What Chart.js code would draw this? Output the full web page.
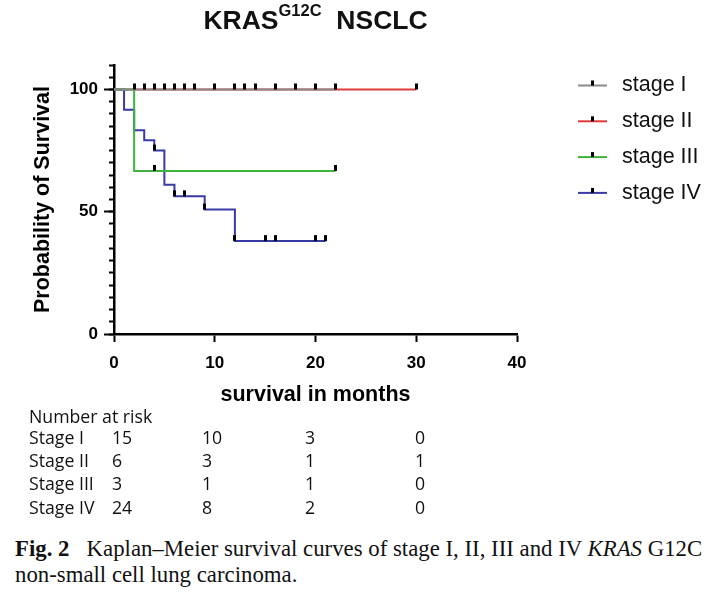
<!DOCTYPE html>
<html><head><meta charset="utf-8">
<script src="https://cdn.jsdelivr.net/npm/chart.js@4/dist/chart.umd.min.js"></script>
<style>
html,body{margin:0;padding:0;background:#fff;width:715px;height:595px;overflow:hidden;}
#wrap{position:relative;width:715px;height:595px;}
#c{position:absolute;left:0;top:0;}
#title{position:absolute;left:0;width:631px;top:4px;text-align:center;font:bold 26.5px "Liberation Sans",Arial,sans-serif;line-height:32px;color:#111;}
#title sup{font-size:16.5px;position:relative;top:-2px;vertical-align:top;line-height:16px;}
.rt{position:absolute;font:17.7px "Open Sans",sans-serif;color:#111;white-space:nowrap;line-height:20px;}
#cap{position:absolute;left:15px;top:536px;font:22.8px "Liberation Serif","Times New Roman",serif;color:#111;line-height:26px;white-space:nowrap;}
</style></head>
<body><div id="wrap">
<canvas id="c" width="715" height="410"></canvas>
<div id="title">KRAS<sup>G12C</sup>&nbsp;&nbsp;NSCLC</div>
<div id="risk"></div>
<div id="cap"><b>Fig. 2</b>&nbsp;&nbsp;&nbsp;Kaplan–Meier survival curves of stage I, II, III and IV <i>KRAS</i> G12C<br>non-small cell lung carcinoma.</div>
</div>
<script>
// ---- data ----
const xTicks = [0, 10, 20, 30, 40];
const yMajorTicks = [0, 50, 100];
const stageLabels = ['stage I', 'stage II', 'stage III', 'stage IV'];

const s1Times = [0, 22];
const s1Surv = [100, 100];
const s1Censor = [2, 3, 4, 5, 6, 7, 8, 10, 12, 13, 14, 16, 18, 20, 22];

const s2Times = [0, 30];
const s2Surv = [100, 100];
const s2Censor = [30];

const s3Times = [0, 2, 22];
const s3Surv = [100, 66.7, 66.7];
const s3Censor = [4, 22];

const s4Times = [0, 1, 2, 3, 4, 5, 6, 9, 12, 21];
const s4Surv = [100, 91.7, 83.3, 79.2, 75.0, 61.0, 56.3, 50.9, 38.0, 38.0];
const s4Censor = [4, 6, 7, 9, 12, 15, 16, 20, 21];

const riskTitle = 'Number at risk';
const riskRowLabels = ['Stage I', 'Stage II', 'Stage III', 'Stage IV'];
const riskStage1 = [15, 10, 3, 0];
const riskStage2 = [6, 3, 1, 1];
const riskStage3 = [3, 1, 1, 0];
const riskStage4 = [24, 8, 2, 0];

// ---- styles ----
const colors = ['#8a8a8a', '#e03a3a', '#3cb43c', '#3a3aa6'];
const lineOrder = [1, 4, 2, 3]; // lower = drawn on top
const FONT = '"Liberation Sans", Arial, sans-serif';

function pts(times, surv) { return times.map((t, i) => ({x: t, y: surv[i]})); }
function survAt(times, surv, t) { let v = surv[0]; for (let i = 0; i < times.length; i++) { if (times[i] <= t) v = surv[i]; } return v; }
function cens(times, surv, c) { return c.map(t => ({x: t, y: survAt(times, surv, t)})); }

const mark = document.createElement('canvas');
mark.width = 3; mark.height = 14;
(function(){ const g = mark.getContext('2d'); g.fillStyle = '#000'; g.fillRect(0, 1, 3, 6); })();

const series = [[s1Times, s1Surv, s1Censor], [s2Times, s2Surv, s2Censor], [s3Times, s3Surv, s3Censor], [s4Times, s4Surv, s4Censor]];
const datasets = [];
series.forEach((s, i) => {
  datasets.push({type: 'line', label: stageLabels[i], data: pts(s[0], s[1]), stepped: 'before', borderColor: colors[i], borderWidth: 2, pointRadius: 0, fill: false, order: lineOrder[i]});
});
series.forEach((s, i) => {
  datasets.push({type: 'scatter', label: stageLabels[i] + ' censored', data: cens(s[0], s[1], s[2]), pointStyle: mark, pointRadius: 3, showLine: false, order: -1});
});

const legendPlugin = {
  id: 'kmLegend',
  afterDraw(chart) {
    const ctx = chart.ctx;
    ctx.save();
    stageLabels.forEach((lab, i) => {
      const y = 85.5 + i * 35.8;
      ctx.strokeStyle = colors[i]; ctx.lineWidth = 2;
      ctx.beginPath(); ctx.moveTo(578, y); ctx.lineTo(607, y); ctx.stroke();
      ctx.fillStyle = '#000'; ctx.fillRect(591, y - 5, 3, 5);
      ctx.fillStyle = '#111'; ctx.font = '21.5px ' + FONT; ctx.textBaseline = 'middle'; ctx.textAlign = 'left';
      ctx.fillText(lab, 622, y);
    });
    ctx.restore();
  }
};

const chart = new Chart(document.getElementById('c'), {
  data: {datasets},
  options: {
    responsive: false, animation: false, events: [],
    layout: {padding: {top: 65, right: 198, bottom: 0, left: 0}},
    plugins: {legend: {display: false}, tooltip: {enabled: false}},
    scales: {
      x: {
        type: 'linear', position: 'bottom', min: 0, max: 40,
        afterBuildTicks(s) { s.ticks = xTicks.map(v => ({value: v})); },
        ticks: {color: '#000', font: {family: FONT, size: 17, weight: 'bold'}, padding: 11, maxRotation: 0},
        grid: {drawOnChartArea: false, tickLength: 8, tickWidth: 2, color: '#000'},
        border: {color: '#000', width: 2.5},
        title: {display: true, text: 'survival in months', color: '#000', font: {family: FONT, size: 21.5, weight: 'bold'}, padding: {top: 0, bottom: 2}},
        afterFit(s) { s.height = 76; }
      },
      y: {
        type: 'linear', position: 'left', weight: 1, min: 0, max: 110,
        afterBuildTicks(s) { s.ticks = yMajorTicks.map(v => ({value: v})); },
        ticks: {color: '#000', font: {family: FONT, size: 17, weight: 'bold'}, padding: 6},
        grid: {drawOnChartArea: false, tickLength: 10, tickWidth: 2, color: '#000'},
        border: {color: '#000', width: 2.5},
        title: {display: true, text: 'Probability of Survival', color: '#000', font: {family: FONT, size: 21.5, weight: 'bold'}, padding: {top: 30, bottom: 0}},
        afterFit(s) { s.width = 114; }
      },
      yMinor: {
        type: 'linear', position: 'left', weight: 0, min: 0, max: 110,
        ticks: {display: false, stepSize: 5},
        grid: {drawOnChartArea: false, tickLength: 5, tickWidth: 2, color: '#000'},
        border: {display: false},
        afterFit(s) { s.width = 0; }
      }
    }
  },
  plugins: [legendPlugin]
});

// risk table
const riskEl = document.getElementById('risk');
const riskRows = [riskStage1, riskStage2, riskStage3, riskStage4];
const colLeft = [112, 202, 305, 415];
function addText(txt, x, y) { const d = document.createElement('div'); d.className = 'rt'; d.textContent = txt; d.style.left = x + 'px'; d.style.top = (y - 10) + 'px'; riskEl.appendChild(d); }
addText(riskTitle, 29, 416);
riskRows.forEach((row, r) => {
  const y = 437 + r * 23.2;
  addText(riskRowLabels[r], 29, y);
  row.forEach((v, c) => addText(String(v), colLeft[c], y));
});
</script>
</body></html>
